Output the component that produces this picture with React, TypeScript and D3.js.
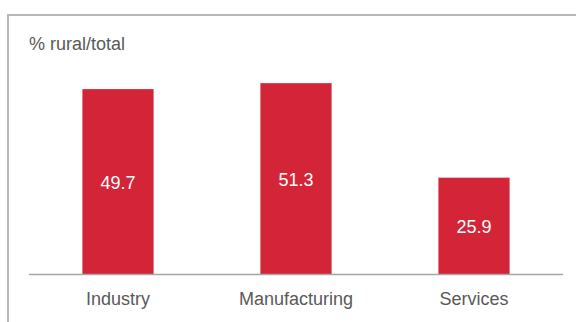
import React from "react";
import * as d3 from "d3";

const categories: string[] = ["Industry", "Manufacturing", "Services"];
const values: number[] = [49.7, 51.3, 25.9];
const axisTitle = "% rural/total";

const W = 576;
const H = 322;

export default function App() {
  const x = d3
    .scaleBand<string>()
    .domain(categories)
    .range([29, 563])
    .paddingInner(0.6)
    .paddingOuter(0.3);
  const y = d3.scaleLinear().domain([0, 60]).range([274, 50.8]);
  const font = "'Liberation Sans', Arial, sans-serif";
  const textColor = "#595959";
  const barColor = "#d32537";

  return (
    <svg
      width={W}
      height={H}
      style={{ position: "fixed", left: 0, top: 0, background: "#fff" }}
    >
      <path
        d={`M8,${H + 2}V15H${W + 2}`}
        fill="none"
        stroke="#b8b8b8"
        strokeWidth={2}
      />
      <text x={29} y={50} fontFamily={font} fontSize={18} fill={textColor}>
        {axisTitle}
      </text>
      {categories.map((c, i) => {
        const bx = x(c)!;
        const top = y(values[i]);
        const base = y(0);
        return (
          <g key={c}>
            <rect x={bx} y={top} width={x.bandwidth()} height={base - top} fill={barColor} />
            <text
              x={bx + x.bandwidth() / 2}
              y={(top + base) / 2}
              dy="0.4em"
              textAnchor="middle"
              fontFamily={font}
              fontSize={18}
              fill="#ffffff"
            >
              {values[i].toFixed(1)}
            </text>
            <text
              x={bx + x.bandwidth() / 2}
              y={305}
              textAnchor="middle"
              fontFamily={font}
              fontSize={18}
              fill={textColor}
            >
              {c}
            </text>
          </g>
        );
      })}
      <line x1={29} x2={563} y1={274.5} y2={274.5} stroke="#a6a6a6" strokeWidth={1.5} />
    </svg>
  );
}
